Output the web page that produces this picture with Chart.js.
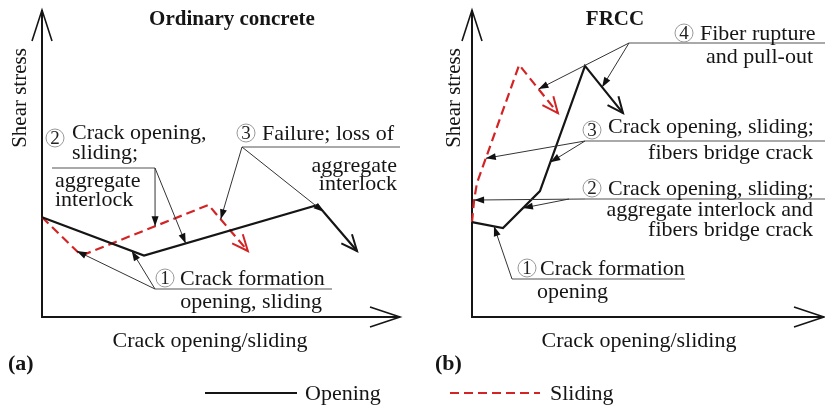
<!DOCTYPE html>
<html>
<head>
<meta charset="utf-8">
<script src="https://cdn.jsdelivr.net/npm/chart.js@4.4.1/dist/chart.umd.min.js"></script>
<style>
  html, body { margin: 0; padding: 0; background: #fff; }
  #wrap { position: relative; width: 825px; height: 406px; overflow: hidden; }
  #chartA { position: absolute; left: 0; top: 0; }
  #chartB { position: absolute; left: 412px; top: 0; }
</style>
</head>
<body>
<div id="wrap">
  <canvas id="chartA" width="412" height="406"></canvas>
  <canvas id="chartB" width="413" height="406"></canvas>
</div>
<script>
// Schematic shear stress vs crack opening/sliding curves (arbitrary units, 0-100)
const seriesLabels = ['Opening', 'Sliding'];

// (a) ordinary concrete
const concreteOpeningX = [0, 28.5, 77, 88];
const concreteOpeningY = [32.5, 20, 36.5, 21.5];
const concreteSlidingX = [0, 11, 46.5, 57.5];
const concreteSlidingY = [32.5, 20, 36.5, 21.5];

// (b) FRCC
const frccOpeningX = [0, 8.8, 19.3, 32.1, 42.9];
const frccOpeningY = [30.9, 29, 41, 81.8, 66.4];
const frccSlidingX = [0, 0.6, 1.4, 13.4, 24.4];
const frccSlidingY = [30.9, 38.1, 43.6, 82.1, 66.4];

const SERIF = '"Liberation Serif", "Times New Roman", serif';
const INK = '#151515';
const RED = '#d42324';

function toPoints(xs, ys) {
  return xs.map((x, i) => ({ x: x, y: ys[i] }));
}

function buildDatasets(ox, oy, sx, sy) {
  return [
    { label: seriesLabels[0], data: toPoints(ox, oy), borderColor: INK, borderWidth: 2.2,
      pointRadius: 0, tension: 0, clip: false },
    { label: seriesLabels[1], data: toPoints(sx, sy), borderColor: RED, borderWidth: 2.2,
      borderDash: [9, 5], pointRadius: 0, tension: 0, clip: false }
  ];
}

// point at fraction t along segment seg of a dataset, in canvas pixels
function pointOn(chart, ds, seg, t) {
  const pts = chart.getDatasetMeta(ds).data;
  const a = pts[seg], b = pts[seg + 1];
  return [a.x + (b.x - a.x) * t, a.y + (b.y - a.y) * t];
}

function openArrow(ctx, tx, ty, fx, fy, len, half) {
  const ang = Math.atan2(ty - fy, tx - fx);
  const bx = tx - len * Math.cos(ang), by = ty - len * Math.sin(ang);
  ctx.beginPath();
  ctx.moveTo(bx + half * Math.sin(ang), by - half * Math.cos(ang));
  ctx.lineTo(tx, ty);
  ctx.lineTo(bx - half * Math.sin(ang), by + half * Math.cos(ang));
  ctx.stroke();
}

function solidArrow(ctx, tx, ty, fx, fy, len, half) {
  const ang = Math.atan2(ty - fy, tx - fx);
  const bx = tx - len * Math.cos(ang), by = ty - len * Math.sin(ang);
  ctx.beginPath();
  ctx.moveTo(bx + half * Math.sin(ang), by - half * Math.cos(ang));
  ctx.lineTo(tx, ty);
  ctx.lineTo(bx - half * Math.sin(ang), by + half * Math.cos(ang));
  ctx.closePath();
  ctx.fill();
}

function drawText(ctx, s, x, y, align, font) {
  ctx.font = font;
  ctx.textAlign = align || 'left';
  ctx.textBaseline = 'alphabetic';
  ctx.fillText(s, x, y);
}

const schematic = {
  id: 'schematic',
  beforeDatasetsDraw(chart, args, o) {
    const ctx = chart.ctx, a = chart.chartArea;
    ctx.save();
    ctx.strokeStyle = INK;
    ctx.lineWidth = 2;
    ctx.setLineDash([]);
    ctx.beginPath();
    ctx.moveTo(a.left, a.top);
    ctx.lineTo(a.left, a.bottom);
    ctx.lineTo(a.right, a.bottom);
    ctx.stroke();
    ctx.lineWidth = 1.6;
    openArrow(ctx, a.left, a.top, a.left, a.bottom, 31, 10);
    openArrow(ctx, a.right, a.bottom, a.left, a.bottom, 30, 10);
    ctx.restore();
  },
  afterDatasetsDraw(chart, args, o) {
    const ctx = chart.ctx;
    ctx.save();
    ctx.setLineDash([]);

    // arrowheads at the ends of each curve
    chart.data.datasets.forEach((ds, i) => {
      const pts = chart.getDatasetMeta(i).data;
      const p = pts[pts.length - 1], q = pts[pts.length - 2];
      ctx.strokeStyle = ds.borderColor;
      ctx.lineWidth = 2;
      openArrow(ctx, p.x, p.y, q.x, q.y, 16, 7);
    });

    ctx.fillStyle = INK;
    drawText(ctx, o.title.text, o.title.x, o.title.y, 'center', 'bold 21px ' + SERIF);

    ctx.save();
    ctx.translate(o.yTitle.x, o.yTitle.y);
    ctx.rotate(-Math.PI / 2);
    drawText(ctx, 'Shear stress', 0, 0, 'center', '21px ' + SERIF);
    ctx.restore();

    drawText(ctx, 'Crack opening/sliding', o.xTitle.x, o.xTitle.y, 'center', '22px ' + SERIF);
    drawText(ctx, o.letter.text, o.letter.x, o.letter.y, 'left', 'bold 22px ' + SERIF);

    // legend entry owned by this panel
    const lg = o.legend, lds = chart.data.datasets[lg.ds];
    ctx.strokeStyle = lds.borderColor;
    ctx.lineWidth = 2.2;
    ctx.setLineDash(lds.borderDash || []);
    ctx.beginPath();
    ctx.moveTo(lg.x1, lg.y);
    ctx.lineTo(lg.x2, lg.y);
    ctx.stroke();
    ctx.setLineDash([]);
    ctx.fillStyle = INK;
    drawText(ctx, lds.label, lg.tx, lg.ty, 'left', '22px ' + SERIF);

    // numbered callouts
    o.notes.forEach(n => {
      ctx.strokeStyle = '#555';
      ctx.lineWidth = 1.2;
      ctx.beginPath();
      ctx.moveTo(n.rule[0], n.rule[2]);
      ctx.lineTo(n.rule[1], n.rule[2]);
      ctx.stroke();

      ctx.strokeStyle = '#999';
      ctx.lineWidth = 1;
      ctx.beginPath();
      ctx.arc(n.circle[0], n.circle[1], 9, 0, Math.PI * 2);
      ctx.stroke();
      ctx.fillStyle = '#222';
      ctx.font = '19px ' + SERIF;
      ctx.textAlign = 'center';
      ctx.textBaseline = 'middle';
      ctx.fillText(n.num, n.circle[0], n.circle[1] + 1);

      ctx.fillStyle = INK;
      n.lines.forEach(l => drawText(ctx, l.text, l.x, l.y, l.align, '22px ' + SERIF));

      n.leaders.forEach(ld => {
        const tgt = pointOn(chart, ld.ds, ld.seg, ld.t);
        ctx.strokeStyle = '#333';
        ctx.lineWidth = 1;
        ctx.beginPath();
        ctx.moveTo(ld.from[0], ld.from[1]);
        ctx.lineTo(tgt[0], tgt[1]);
        ctx.stroke();
        ctx.fillStyle = '#111';
        solidArrow(ctx, tgt[0], tgt[1], ld.from[0], ld.from[1], 10, 3.5);
      });
    });
    ctx.restore();
  }
};

// callout layout, canvas pixels of each panel
const notesA = [
  { num: '1', circle: [165, 278], rule: [155, 332, 289],
    lines: [
      { text: 'Crack formation', x: 180, y: 285, align: 'left' },
      { text: 'opening, sliding', x: 322, y: 308, align: 'right' }
    ],
    leaders: [
      { from: [155, 289], ds: 1, seg: 0, t: 0.88 },
      { from: [155, 289], ds: 0, seg: 0, t: 0.88 }
    ] },
  { num: '2', circle: [55, 138], rule: [52, 155, 168],
    lines: [
      { text: 'Crack opening,', x: 72, y: 139, align: 'left' },
      { text: 'sliding;', x: 72, y: 159, align: 'left' },
      { text: 'aggregate', x: 55, y: 187, align: 'left' },
      { text: 'interlock', x: 55, y: 206, align: 'left' }
    ],
    leaders: [
      { from: [155, 168], ds: 1, seg: 1, t: 0.58 },
      { from: [155, 168], ds: 0, seg: 1, t: 0.24 }
    ] },
  { num: '3', circle: [246, 133], rule: [242, 400, 147],
    lines: [
      { text: 'Failure; loss of', x: 262, y: 140, align: 'left' },
      { text: 'aggregate', x: 397, y: 172, align: 'right' },
      { text: 'interlock', x: 397, y: 190, align: 'right' }
    ],
    leaders: [
      { from: [242, 147], ds: 1, seg: 2, t: 0.31 },
      { from: [242, 147], ds: 0, seg: 2, t: 0.15 }
    ] }
];

const notesB = [
  { num: '4', circle: [272, 33], rule: [217, 413, 43],
    lines: [
      { text: 'Fiber rupture', x: 288, y: 40, align: 'left' },
      { text: 'and pull-out', x: 401, y: 63, align: 'right' }
    ],
    leaders: [
      { from: [217, 43], ds: 1, seg: 3, t: 0.5 },
      { from: [217, 43], ds: 0, seg: 3, t: 0.45 }
    ] },
  { num: '3', circle: [180, 130], rule: [173, 413, 141],
    lines: [
      { text: 'Crack opening, sliding;', x: 196, y: 133, align: 'left' },
      { text: 'fibers bridge crack', x: 401, y: 159, align: 'right' }
    ],
    leaders: [
      { from: [173, 141], ds: 1, seg: 2, t: 0.21 },
      { from: [173, 141], ds: 0, seg: 2, t: 0.23 }
    ] },
  { num: '2', circle: [180, 188], rule: [173, 413, 199],
    lines: [
      { text: 'Crack opening, sliding;', x: 196, y: 195, align: 'left' },
      { text: 'aggregate interlock and', x: 401, y: 216, align: 'right' },
      { text: 'fibers bridge crack', x: 401, y: 236, align: 'right' }
    ],
    leaders: [
      { from: [173, 199], ds: 1, seg: 0, t: 1 },
      { from: [157, 199], ds: 0, seg: 1, t: 0.54 }
    ] },
  { num: '1', circle: [115, 268], rule: [100, 273, 279],
    lines: [
      { text: 'Crack formation', x: 128, y: 275, align: 'left' },
      { text: 'opening', x: 125, y: 298, align: 'left' }
    ],
    leaders: [
      { from: [100, 279], ds: 0, seg: 0, t: 0.71 }
    ] }
];

function makeChart(id, datasets, padding, panel) {
  return new Chart(document.getElementById(id), {
    type: 'line',
    data: { datasets: datasets },
    options: {
      responsive: false,
      animation: false,
      events: [],
      layout: { padding: padding },
      scales: {
        x: { type: 'linear', min: 0, max: 100, display: false },
        y: { type: 'linear', min: 0, max: 100, display: false }
      },
      plugins: {
        legend: { display: false },
        tooltip: { enabled: false },
        schematic: panel
      }
    },
    plugins: [schematic]
  });
}

makeChart('chartA',
  buildDatasets(concreteOpeningX, concreteOpeningY, concreteSlidingX, concreteSlidingY),
  { left: 42, right: 12, top: 10, bottom: 89 },
  {
    title: { text: 'Ordinary concrete', x: 232, y: 25 },
    yTitle: { x: 26, y: 98 },
    xTitle: { x: 210, y: 347 },
    letter: { text: '(a)', x: 8, y: 370 },
    legend: { ds: 0, x1: 205, x2: 297, y: 393, tx: 305, ty: 400 },
    notes: notesA
  });

makeChart('chartB',
  buildDatasets(frccOpeningX, frccOpeningY, frccSlidingX, frccSlidingY),
  { left: 60, right: 1, top: 10, bottom: 89 },
  {
    title: { text: 'FRCC', x: 203, y: 25 },
    yTitle: { x: 48, y: 98 },
    xTitle: { x: 227, y: 347 },
    letter: { text: '(b)', x: 23, y: 370 },
    legend: { ds: 1, x1: 38, x2: 128, y: 393, tx: 138, ty: 400 },
    notes: notesB
  });
</script>
</body>
</html>
